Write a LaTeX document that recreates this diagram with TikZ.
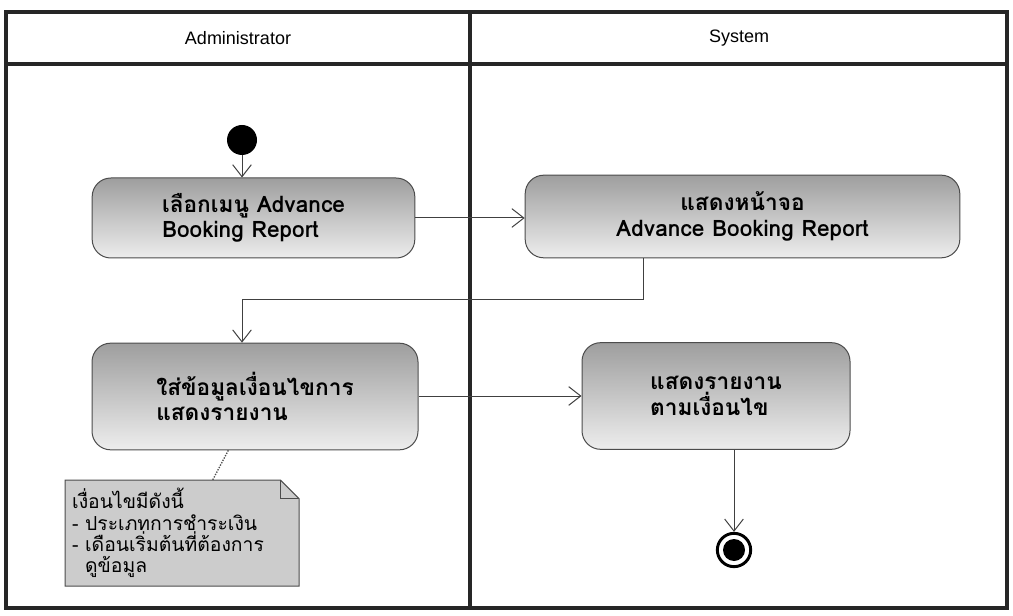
\documentclass[tikz,border=0pt]{standalone}
\usepackage{fontspec}
\setmainfont{Liberation Sans}
\newfontfamily\thaifont[Script=Thai]{Loma}
\usetikzlibrary{arrows.meta}

\tikzset{every picture/.style={line width=0.75pt}}
\tikzset{
  lane/.style={line width=3.6pt, black!85},
  lanehead/.style={font=\fontsize{13.5}{15}\selectfont},
  action/.style={draw=black!70, rounded corners=14pt, top color=black!38, bottom color=black!7,
    inner sep=0pt, font=\thaifont\bfseries\fontsize{17}{19}\selectfont},
  flow/.style={draw=black!75, -{Straight Barb[length=9pt,width=14pt]}},
  notebox/.style={draw=black!70, fill=black!20},
}

\begin{document}
\begin{tikzpicture}[x=0.75pt,y=0.75pt,yscale=-1,xscale=1]
\useasboundingbox (0,0) rectangle (1013,616);

%Swimlanes
\draw[lane] (6,12) rectangle (1007,608);
\draw[lane] (6,64) -- (1007,64);
\draw[lane] (470,12) -- (470,608);
\node[lanehead] (admin) at (238,38) {Administrator};
\node[lanehead] (sys) at (739,38) {System};

%Shape: Initial node
\node[circle, fill=black, minimum size=22.5pt, inner sep=0pt] (start) at (242,140) {};

%Shape: Actions
\node[action, minimum width=242pt, minimum height=60pt, align=left] (pick) at (253.5,218)
  {เลือกเมนู Advance\\Booking Report};
\node[action, minimum width=326pt, minimum height=62pt, align=center] (screen) at (742.5,216.5)
  {แสดงหน้าจอ\\Advance Booking Report};
\node[action, minimum width=244.5pt, minimum height=80pt, align=left] (input) at (255,396.5)
  {ใส่ข้อมูลเงื่อนไขการ\\แสดงรายงาน};
\node[action, minimum width=201pt, minimum height=80pt, align=left] (report) at (716,396)
  {แสดงรายงาน\\ตามเงื่อนไข};

%Shape: Final node
\node[circle, draw, line width=2.2pt, minimum size=25pt, inner sep=0pt] (stop) at (734,550) {};
\fill (stop) circle (11);

%Straight Lines
\draw[flow] (start) -- (start |- pick.north);
\draw[flow] (pick.east) -- (pick.east -| screen.west);
\coordinate (elbow) at (643,300);
\draw[flow] (elbow |- screen.south) -- (elbow) -| (input.north -| start);
\draw[flow] (report.west -| input.east) -- (report.west);
\draw[flow] (stop |- report.south) -- (stop.north);

%Shape: Note
\node[anchor=north west, minimum width=174.75pt, minimum height=78.75pt, inner sep=0pt] (note) at (65,480) {};
\draw[notebox] (note.south west) -- (note.north west) -- ([xshift=-14pt]note.north east)
  -- ([yshift=14pt]note.north east) -- (note.south east) -- cycle;
\draw[draw=black!70] ([xshift=-14pt]note.north east) -- ([xshift=-14pt,yshift=14pt]note.north east)
  -- ([yshift=14pt]note.north east);
\node[anchor=north west, align=left, inner sep=0pt, font=\thaifont\fontsize{14.5}{16}\selectfont] (notetext)
  at ([xshift=5pt,yshift=6pt]note.north west)
  {เงื่อนไขมีดังนี้\\- ประเภทการชำระเงิน\\- เดือนเริ่มต้นที่ต้องการ\\\ \ ดูข้อมูล};
\draw[black!70, densely dotted, line width=1pt] ([xshift=-20pt]input.south) -- ([xshift=23pt]note.north);

\end{tikzpicture}
\end{document}
